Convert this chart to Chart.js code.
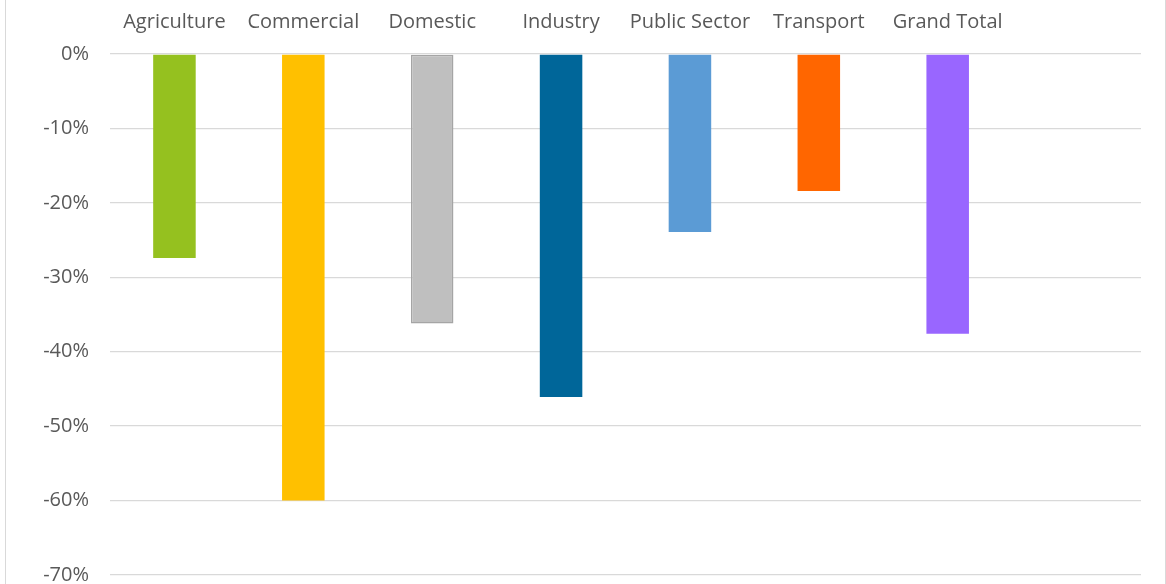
<!DOCTYPE html>
<html>
<head>
<meta charset="utf-8">
<script src="https://cdn.jsdelivr.net/npm/chart.js@4"></script>
<style>
  html, body { margin: 0; padding: 0; background: #fff; }
  #wrap { position: relative; height: 584px; box-sizing: border-box; overflow: hidden;
          border-left: 1.5px solid #D9D9D9; border-right: 1.5px solid #D9D9D9; margin-left: 5px; width: 1161px; }
  canvas { display: block; }
</style>
</head>
<body>
<div id="wrap"><canvas id="chart" width="1158" height="608"></canvas></div>
<script>
const categories = ["Agriculture", "Commercial", "Domestic", "Industry", "Public Sector", "Transport", "Grand Total", ""];
const changeValues = [-0.274, -0.60, -0.362, -0.461, -0.239, -0.184, -0.376, null];
const barColors = ["#95C11F", "#FFC000", "#BFBFBF", "#006699", "#5B9BD5", "#FF6600", "#9966FF", "#ffffff"];
const barBorders = ["#95C11F", "#FFC000", "#A5A5A5", "#006699", "#5B9BD5", "#FF6600", "#9966FF", "#ffffff"];
const yTicks = [0, -0.1, -0.2, -0.3, -0.4, -0.5, -0.6, -0.7];

Chart.defaults.font.family = "'Open Sans', Lato, sans-serif";
Chart.defaults.color = "#595959";

const ctx = document.getElementById("chart").getContext("2d");
new Chart(ctx, {
    type: "bar",
    data: {
        labels: categories,
        datasets: [{
            data: changeValues,
            backgroundColor: barColors,
            borderColor: barBorders,
            borderWidth: [0, 0, 1.5, 0, 0, 0, 0, 0],
            borderSkipped: false,
            categoryPercentage: 1,
            barPercentage: 0.33
        }]
    },
    options: {
        responsive: false,
        animation: false,
        layout: { padding: { left: 0, right: 23, top: 0, bottom: 0 } },
        plugins: { legend: { display: false }, tooltip: { enabled: false } },
        scales: {
            x: {
                position: "top",
                grid: { display: false },
                border: { display: false },
                ticks: { font: { size: 20 }, padding: 12, maxRotation: 0, autoSkip: false },
                afterFit: function(scale) { scale.height = 54; }
            },
            y: {
                min: -0.7,
                max: 0,
                afterBuildTicks: function(scale) { scale.ticks = yTicks.map(v => ({ value: v })); },
                grid: { color: "#D9D9D9", lineWidth: 1.3, drawTicks: false },
                border: { display: false },
                ticks: {
                    font: { size: 20 },
                    padding: 21,
                    callback: function(v) { return Math.round(v * 100) + "%"; }
                },
                afterFit: function(scale) { scale.width = 104; }
            }
        }
    }
});
</script>
</body>
</html>
